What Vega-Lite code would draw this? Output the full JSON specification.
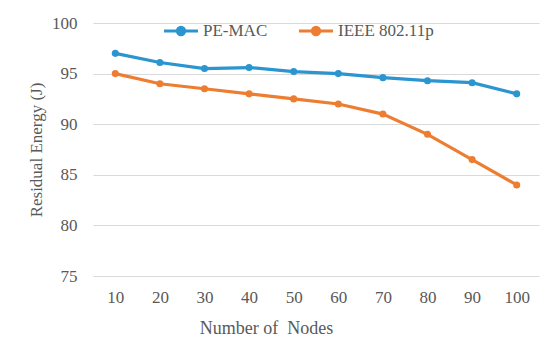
{
  "$schema": "https://vega.github.io/schema/vega-lite/v6.json",
  "width": 446,
  "height": 253,
  "autosize": {"type": "none"},
  "padding": {"left": 93, "top": 23, "right": 11, "bottom": 69},
  "background": "white",
  "data": {
    "values": [
      {"nodes": "10", "series": "PE-MAC", "energy": 97.0},
      {"nodes": "20", "series": "PE-MAC", "energy": 96.1},
      {"nodes": "30", "series": "PE-MAC", "energy": 95.5},
      {"nodes": "40", "series": "PE-MAC", "energy": 95.6},
      {"nodes": "50", "series": "PE-MAC", "energy": 95.2},
      {"nodes": "60", "series": "PE-MAC", "energy": 95.0},
      {"nodes": "70", "series": "PE-MAC", "energy": 94.6},
      {"nodes": "80", "series": "PE-MAC", "energy": 94.3},
      {"nodes": "90", "series": "PE-MAC", "energy": 94.1},
      {"nodes": "100", "series": "PE-MAC", "energy": 93.0},
      {"nodes": "10", "series": "IEEE 802.11p", "energy": 95.0},
      {"nodes": "20", "series": "IEEE 802.11p", "energy": 94.0},
      {"nodes": "30", "series": "IEEE 802.11p", "energy": 93.5},
      {"nodes": "40", "series": "IEEE 802.11p", "energy": 93.0},
      {"nodes": "50", "series": "IEEE 802.11p", "energy": 92.5},
      {"nodes": "60", "series": "IEEE 802.11p", "energy": 92.0},
      {"nodes": "70", "series": "IEEE 802.11p", "energy": 91.0},
      {"nodes": "80", "series": "IEEE 802.11p", "energy": 89.0},
      {"nodes": "90", "series": "IEEE 802.11p", "energy": 86.5},
      {"nodes": "100", "series": "IEEE 802.11p", "energy": 84.0}
    ]
  },
  "mark": {"type": "line", "strokeWidth": 3.2, "point": {"filled": true, "size": 50, "opacity": 1}},
  "encoding": {
    "x": {
      "field": "nodes",
      "type": "ordinal",
      "sort": null,
      "scale": {"type": "point", "padding": 0.5},
      "axis": {
        "title": "Number of\u00a0 Nodes",
        "labelAngle": 0,
        "domain": false,
        "ticks": false,
        "labelPadding": 13,
        "titlePadding": 14,
        "titleX": 173,
        "titleFontSize": 18
      }
    },
    "y": {
      "field": "energy",
      "type": "quantitative",
      "scale": {"domain": [75, 100], "nice": false, "zero": false},
      "axis": {
        "title": "Residual Energy (J)",
        "values": [75, 80, 85, 90, 95, 100],
        "domain": false,
        "ticks": false,
        "labelPadding": 16,
        "titlePadding": 6,
        "gridColor": "#d9d9d9",
        "gridWidth": 1
      }
    },
    "color": {
      "field": "series",
      "type": "nominal",
      "scale": {"domain": ["PE-MAC", "IEEE 802.11p"], "range": ["#2B95D0", "#ED7D31"]},
      "legend": {
        "title": null,
        "orient": "none",
        "direction": "horizontal",
        "legendX": 69,
        "legendY": -11,
        "symbolType": "M-1,0L1,0M-0.21,0A0.21,0.21,0,1,1,0.21,0A0.21,0.21,0,1,1,-0.21,0Z",
        "symbolSize": 1156,
        "symbolStrokeWidth": 3.2,
        "labelOffset": 3,
        "columnPadding": 24,
        "labelFont": "Liberation Serif",
        "labelFontSize": 17,
        "labelColor": "#595959",
        "encode": {
          "symbols": {
            "update": {
              "fill": {"scale": "color", "field": "value"},
              "stroke": {"scale": "color", "field": "value"},
              "opacity": {"value": 1}
            }
          }
        }
      }
    }
  },
  "config": {
    "font": "Liberation Serif",
    "view": {"stroke": null},
    "axis": {
      "labelFont": "Liberation Serif",
      "labelFontSize": 17,
      "labelColor": "#595959",
      "titleFont": "Liberation Serif",
      "titleFontSize": 17,
      "titleFontWeight": "normal",
      "titleColor": "#595959"
    }
  }
}
